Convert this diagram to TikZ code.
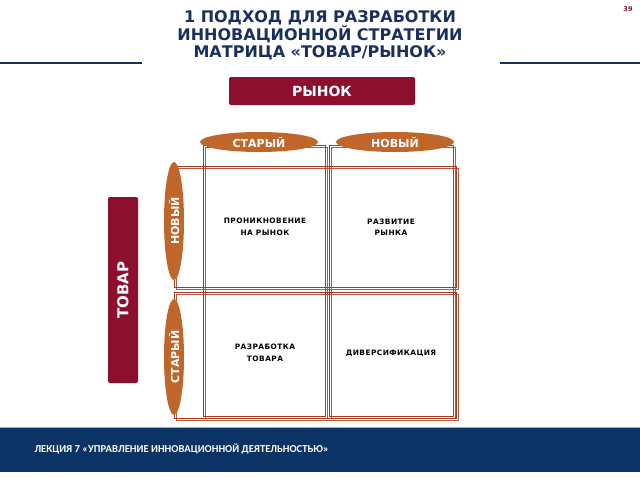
\documentclass[tikz,border=0pt]{standalone}
\usepackage{fontspec}
\setmainfont{DejaVu Sans}
\newfontfamily\footfont{Carlito}
\usetikzlibrary{shapes.geometric}
\definecolor{navy}{HTML}{1B2F5C}
\definecolor{wine}{HTML}{8C0F2E}
\definecolor{ochre}{HTML}{C0662B}
\definecolor{brick}{HTML}{A63C1F}
\definecolor{band}{HTML}{0B3366}
\tikzset{
  hdr/.style={fill=wine, rounded corners=2pt, text=white, font=\bfseries\fontsize{14}{16}\selectfont, inner sep=0pt},
  oval/.style={ellipse, fill=ochre, text=white, inner sep=0pt, font=\bfseries\fontsize{11}{12}\selectfont, minimum width=118pt, minimum height=20pt},
  cellbox/.style={draw=brick, line width=1pt},
  cellbox2/.style={draw=brick!85!white, line width=0.8pt},
  celltext/.style={align=center, font=\bfseries\fontsize{7.4}{11.5}\selectfont\addfontfeature{LetterSpace=6}}
}
\begin{document}
\begin{tikzpicture}[x=1pt,y=-1pt]
\useasboundingbox (0,0) rectangle (640,480);
\fill[white] (0,0) rectangle (640,480);
% title
\node[align=center, text=navy, font=\bfseries\fontsize{16}{17}\selectfont] (title) at (320,35) {1 ПОДХОД ДЛЯ РАЗРАБОТКИ\\ИННОВАЦИОННОЙ СТРАТЕГИИ\\МАТРИЦА «ТОВАР/РЫНОК»};
\node[text=wine, font=\bfseries\fontsize{6.5}{7}\selectfont] (pnum) at (628,9) {39};
\draw[navy, line width=1.8pt] (0,63) -- (142,63);
\draw[navy, line width=1.8pt] (500,63) -- (640,63);
% headers
\node[hdr, minimum width=186pt, minimum height=28pt] (market) at (322,91) {РЫНОК};
\node[hdr, minimum width=30pt, minimum height=186pt] (goods) at (123,290) {};
\node[text=white, rotate=90, font=\bfseries\fontsize{15}{16}\selectfont] (goodslbl) at (goods.center) {ТОВАР};
% grid rectangles (double lines)
\draw[cellbox2] (205,147) rectangle (327,418);
\draw[cellbox2] (331,147) rectangle (455,418);
\draw[cellbox2] (176,168) rectangle (458,289);
\draw[cellbox2] (176,294) rectangle (458,420);
\draw[cellbox] (203,145) rectangle (325,416);
\draw[cellbox] (329,145) rectangle (453,416);
\draw[cellbox] (174,166) rectangle (456,287);
\draw[cellbox] (174,292) rectangle (456,418);
% ovals
\node[oval] (oldm) at (259,142) {СТАРЫЙ};
\node[oval] (newm) at (395,142) {НОВЫЙ};
\node[oval, rotate=90] (newg) at (174,221) {НОВЫЙ};
\node[oval, rotate=90, minimum width=116pt] (oldg) at (174,357) {СТАРЫЙ};
% cell texts
\node[celltext] (c11) at (265,227) {ПРОНИКНОВЕНИЕ\\НА РЫНОК};
\node[celltext] (c12) at (391,227) {РАЗВИТИЕ\\РЫНКА};
\node[celltext] (c21) at (265,353) {РАЗРАБОТКА\\ТОВАРА};
\node[celltext] (c22) at (391,353) {ДИВЕРСИФИКАЦИЯ};
% footer
\fill[band] (0,427) rectangle (640,472);
\draw[band!40!white, line width=0.8pt] (0,427) -- (640,427);
\node[anchor=west, text=white, font=\footfont\bfseries\fontsize{10.6}{11}\selectfont] (foot) at (31,449) {ЛЕКЦИЯ 7 «УПРАВЛЕНИЕ ИННОВАЦИОННОЙ ДЕЯТЕЛЬНОСТЬЮ»};
\end{tikzpicture}
\end{document}
